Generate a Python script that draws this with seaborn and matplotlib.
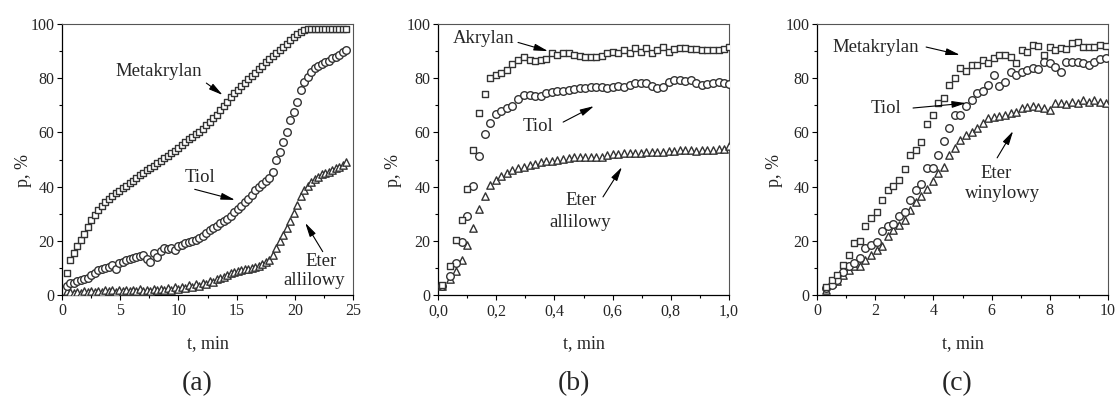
import matplotlib
matplotlib.use("Agg")
import matplotlib.pyplot as plt
import seaborn as sns
from matplotlib.ticker import MultipleLocator, FuncFormatter

# ---------------- data ----------------
# panel (a)
t_a = [0.4, 0.7, 1.0, 1.3, 1.6, 1.9, 2.2, 2.5, 2.8, 3.1,
       3.4, 3.7, 4.0, 4.3, 4.6, 4.9, 5.2, 5.5, 5.8, 6.1,
       6.4, 6.7, 7.0, 7.3, 7.6, 7.9, 8.2, 8.5, 8.8, 9.1,
       9.4, 9.7, 10.0, 10.3, 10.6, 10.9, 11.2, 11.5, 11.8, 12.1,
       12.4, 12.7, 13.0, 13.3, 13.6, 13.9, 14.2, 14.5, 14.8, 15.1,
       15.4, 15.7, 16.0, 16.3, 16.6, 16.9, 17.2, 17.5, 17.8, 18.1,
       18.4, 18.7, 19.0, 19.3, 19.6, 19.9, 20.2, 20.5, 20.8, 21.1,
       21.4, 21.7, 22.0, 22.3, 22.6, 22.9, 23.2, 23.5, 23.8, 24.1,
       24.4]
metakrylan_a = [8.3, 12.9, 15.5, 18.0, 20.3, 22.5, 25.0, 27.5, 29.5, 31.2,
                32.7, 34.2, 35.5, 36.6, 37.6, 38.5, 39.4, 40.3, 41.2, 42.1,
                43.1, 44.1, 45.2, 46.0, 46.9, 47.7, 48.6, 49.6, 50.4, 51.3,
                52.3, 53.3, 54.4, 55.4, 56.4, 57.5, 58.4, 59.4, 60.3, 61.4,
                62.6, 63.9, 65.2, 66.6, 68.2, 69.7, 71.3, 73.0, 74.4, 75.8,
                77.2, 78.4, 79.6, 80.8, 82.0, 83.4, 84.6, 85.9, 87.0, 88.2,
                89.3, 90.4, 91.6, 92.8, 94.1, 95.2, 96.2, 97.0, 97.7, 98.1,
                98.2, 98.2, 98.2, 98.2, 98.2, 98.2, 98.2, 98.2, 98.2, 98.2,
                98.2]
tiol_a = [3.5, 4.3, 4.6, 5.0, 5.4, 5.8, 6.4, 7.3, 8.3, 9.1,
          9.6, 9.8, 10.3, 11.0, 9.5, 11.7, 12.3, 12.9, 13.3, 13.8,
          14.1, 14.4, 14.7, 13.2, 12.3, 15.5, 14.2, 16.4, 17.4, 16.8,
          17.2, 16.5, 18.0, 18.4, 19.2, 19.6, 19.9, 20.2, 21.0, 21.8,
          22.8, 24.1, 24.8, 25.6, 26.4, 27.3, 28.2, 29.3, 30.5, 31.7,
          33.0, 34.2, 35.4, 36.8, 38.6, 40.0, 41.0, 42.0, 43.3, 45.5,
          49.8, 52.9, 56.6, 60.2, 64.6, 67.6, 71.3, 75.8, 78.6, 80.6,
          82.2, 83.6, 84.4, 85.1, 85.8, 86.5, 87.3, 87.8, 88.6, 89.6,
          90.4]
eter_a = [1.5, 1.0, 0.8, 1.2, 0.9, 1.4, 1.0, 1.6, 1.1, 1.5,
          1.2, 1.8, 1.3, 1.7, 1.2, 1.9, 1.4, 1.8, 1.3, 2.0,
          1.5, 2.1, 1.6, 2.0, 1.5, 2.2, 1.7, 2.3, 1.8, 2.6,
          2.0, 2.8, 2.2, 3.1, 2.4, 3.6, 2.8, 4.2, 3.3, 4.6,
          4.0, 5.3, 4.9, 6.0, 6.2, 6.8, 7.3, 8.0, 8.4, 8.9,
          9.3, 9.5, 9.7, 10.0, 10.4, 10.8, 11.4, 12.1, 13.0, 14.8,
          17.4, 19.8, 22.3, 24.8, 27.2, 30.2, 33.3, 36.4, 38.6, 40.2,
          41.6, 42.8, 43.7, 44.5, 45.0, 45.5, 46.2, 46.8, 47.4, 48.1,
          49.0]

# panel (b)
t_b = [0.015, 0.04, 0.063, 0.084, 0.1, 0.12, 0.141, 0.16, 0.18, 0.198,
       0.218, 0.237, 0.255, 0.275, 0.294, 0.315, 0.334, 0.353, 0.372, 0.392,
       0.41, 0.43, 0.449, 0.467, 0.487, 0.506, 0.525, 0.544, 0.564, 0.582,
       0.6, 0.62, 0.64, 0.659, 0.678, 0.696, 0.716, 0.735, 0.754, 0.773,
       0.793, 0.811, 0.83, 0.85, 0.868, 0.888, 0.907, 0.926, 0.945, 0.964,
       0.983, 1.0]
akrylan_b = [3.8, 10.6, 20.4, 27.5, 39.2, 53.6, 67.3, 74.2, 80.2, 81.0,
             81.8, 83.0, 85.3, 86.7, 87.7, 86.7, 86.5, 86.7, 87.0, 89.2,
             88.6, 89.2, 89.4, 88.6, 88.2, 88.0, 88.0, 88.0, 88.2, 89.2,
             89.8, 89.2, 90.4, 89.2, 91.0, 89.8, 91.0, 89.4, 90.4, 91.6,
             89.8, 90.7, 91.0, 91.0, 90.7, 90.7, 90.4, 90.4, 90.4, 90.4,
             90.7, 91.6]
tiol_b = [3.4, 6.9, 11.8, 19.4, 29.0, 40.3, 51.4, 59.3, 63.6, 66.7,
          68.0, 69.0, 69.8, 72.2, 73.8, 73.8, 73.6, 73.6, 74.4, 75.0,
          75.4, 75.4, 75.7, 75.9, 76.3, 76.3, 76.7, 76.7, 76.7, 76.5,
          76.7, 77.1, 76.9, 77.5, 78.1, 78.1, 78.1, 77.1, 76.3, 76.7,
          78.7, 79.4, 79.4, 79.1, 79.4, 78.1, 77.5, 77.9, 78.4, 78.7,
          78.4, 77.9]
eter_b = [3.2, 5.9, 8.7, 13.0, 18.5, 24.7, 31.7, 36.6, 40.7, 42.5,
          44.0, 45.0, 46.0, 46.8, 47.4, 48.0, 48.4, 48.9, 49.3, 49.6,
          49.9, 50.1, 50.4, 50.9, 51.1, 51.1, 51.1, 50.9, 51.1, 51.7,
          52.0, 52.1, 52.3, 52.3, 52.3, 52.3, 52.6, 52.6, 52.6, 52.8,
          53.0, 53.2, 53.6, 53.6, 53.6, 53.3, 53.6, 53.6, 53.6, 53.8,
          53.8, 54.8]

# panel (c)
t_c = [0.32, 0.51, 0.70, 0.89, 1.09, 1.28, 1.47, 1.66, 1.85, 2.05,
       2.24, 2.43, 2.62, 2.81, 3.01, 3.20, 3.39, 3.58, 3.77, 3.97,
       4.16, 4.35, 4.54, 4.73, 4.93, 5.12, 5.31, 5.50, 5.69, 5.89,
       6.08, 6.27, 6.46, 6.65, 6.85, 7.04, 7.23, 7.42, 7.61, 7.81,
       8.00, 8.19, 8.38, 8.57, 8.77, 8.96, 9.15, 9.34, 9.53, 9.73,
       9.92]
metakrylan_c = [3.0, 5.7, 7.5, 11.2, 14.9, 19.2, 19.8, 25.3, 28.4, 30.8,
                35.1, 38.8, 40.3, 42.5, 46.5, 51.7, 53.6, 56.6, 63.1, 66.5,
                70.8, 72.6, 77.5, 80.0, 83.7, 82.8, 84.9, 84.9, 86.7, 85.7,
                87.3, 88.6, 88.6, 88.0, 85.5, 90.4, 89.8, 92.3, 91.9, 88.6,
                91.6, 90.4, 91.0, 90.7, 92.9, 93.5, 91.6, 91.6, 91.6, 92.3,
                91.9]
tiol_c = [2.5, 3.8, 5.7, 8.4, 10.6, 11.8, 13.6, 17.3, 18.6, 19.4,
          23.5, 25.3, 26.3, 29.2, 30.8, 35.1, 38.6, 40.9, 46.8, 46.8,
          51.5, 57.0, 61.8, 66.5, 66.5, 69.8, 72.0, 74.7, 75.1, 77.5,
          81.2, 77.1, 78.7, 82.4, 81.2, 82.4, 83.0, 83.7, 83.3, 86.1,
          85.5, 84.3, 82.4, 86.1, 86.1, 86.1, 85.7, 84.9, 86.1, 87.0,
          87.3]
eter_c = [2.0, 4.4, 5.0, 7.5, 9.3, 10.6, 10.8, 13.0, 14.9, 16.7,
          18.2, 21.6, 24.1, 25.9, 27.8, 31.4, 34.5, 36.4, 39.1, 41.9,
          45.0, 47.4, 51.7, 54.2, 57.2, 59.1, 60.3, 61.5, 63.4, 65.2,
          65.8, 66.1, 66.5, 67.1, 67.7, 68.9, 69.5, 69.8, 69.3, 68.9,
          68.3, 70.8, 70.8, 70.5, 71.4, 70.8, 72.0, 71.4, 72.0, 71.4,
          70.8]

xticks_a = [0, 5, 10, 15, 20, 25]
xticks_b = [0.0, 0.2, 0.4, 0.6, 0.8, 1.0]
xticks_c = [0, 2, 4, 6, 8, 10]
yticks = [0, 20, 40, 60, 80, 100]

# ---------------- style ----------------
sns.set_theme(style="ticks")
plt.rcParams["font.family"] = ["Liberation Serif", "DejaVu Serif"]

EDGE = "#333333"
fig = plt.figure(figsize=(11.19, 3.98), dpi=100)

W, H = 1119.0, 398.0
def add_axes(px_left):
    return fig.add_axes([px_left / W, (H - 295) / H, 291 / W, 271 / H])

ax_a = add_axes(62)
ax_b = add_axes(438)
ax_c = add_axes(817)


def scatter(ax, x, y, marker, s):
    sns.scatterplot(x=x, y=y, ax=ax, marker=marker, s=s,
                    facecolor="white", edgecolor=EDGE, linewidth=1.0,
                    legend=False, zorder=3)


def style(ax, xlim, xticks, xminor, fmt, ylab_x):
    ax.set_xlim(*xlim)
    ax.set_ylim(0, 100)
    ax.set_xticks(xticks)
    ax.set_yticks(yticks)
    ax.xaxis.set_minor_locator(MultipleLocator(xminor))
    ax.yaxis.set_minor_locator(MultipleLocator(10))
    ax.xaxis.set_major_formatter(FuncFormatter(fmt))
    ax.tick_params(which="both", direction="out", top=False, right=False,
                   labelsize=11.5, width=0.8, color="black")
    ax.tick_params(which="major", length=3.5)
    ax.tick_params(which="minor", length=2.2)
    ax.tick_params(axis="x", pad=2.5)
    ax.tick_params(axis="y", pad=2)
    for side in ["left", "bottom"]:
        ax.spines[side].set_color("black")
        ax.spines[side].set_linewidth(0.9)
    for side in ["top", "right"]:
        ax.spines[side].set_color("#555555")
        ax.spines[side].set_linewidth(0.8)
    ax.set_xlabel("t, min", fontsize=13)
    ax.set_ylabel("p, %", fontsize=13)
    ax.xaxis.set_label_coords(0.5, -0.148)
    ax.yaxis.set_label_coords(ylab_x, 0.46)
    ax.set_facecolor("white")


def label(ax, x, y, txt):
    ax.text(x, y, txt, ha="center", va="center", fontsize=13.5, zorder=5)


def arrow(ax, tail, tip):
    ax.annotate("", xy=tip, xytext=tail,
                arrowprops=dict(arrowstyle="-|>,head_length=0.7,head_width=0.17",
                                color="black", lw=0.8, shrinkA=0, shrinkB=0),
                zorder=5)


# panel (a)
scatter(ax_a, t_a, eter_a, "^", 28)
scatter(ax_a, t_a, tiol_a, "o", 30)
scatter(ax_a, t_a, metakrylan_a, "s", 22)
style(ax_a, (0, 25), xticks_a, 2.5, lambda v, p: f"{v:.0f}", -0.103)
label(ax_a, 8.3, 82.3, "Metakrylan")
arrow(ax_a, (12.4, 78.2), (13.8, 73.8))
label(ax_a, 11.86, 43.2, "Tiol")
arrow(ax_a, (11.4, 39.0), (14.86, 35.1))
label(ax_a, 22.3, 12.4, "Eter")
label(ax_a, 21.65, 5.2, "allilowy")
arrow(ax_a, (22.4, 16.0), (20.9, 26.6))

# panel (b)
scatter(ax_b, t_b, eter_b, "^", 28)
scatter(ax_b, t_b, tiol_b, "o", 30)
scatter(ax_b, t_b, akrylan_b, "s", 22)
style(ax_b, (0, 1.0), xticks_b, 0.1, lambda v, p: f"{v:.1f}".replace(".", ","), -0.124)
label(ax_b, 0.158, 94.5, "Akrylan")
arrow(ax_b, (0.275, 93.2), (0.378, 90.0))
label(ax_b, 0.344, 62.0, "Tiol")
arrow(ax_b, (0.43, 63.8), (0.536, 69.7))
label(ax_b, 0.491, 34.7, "Eter")
label(ax_b, 0.488, 26.9, "allilowy")
arrow(ax_b, (0.567, 36.2), (0.632, 47.2))

# panel (c)
scatter(ax_c, t_c, eter_c, "^", 28)
scatter(ax_c, t_c, tiol_c, "o", 30)
scatter(ax_c, t_c, metakrylan_c, "s", 24)
style(ax_c, (0, 10), xticks_c, 1, lambda v, p: f"{v:.0f}", -0.117)
label(ax_c, 2.03, 91.5, "Metakrylan")
arrow(ax_c, (3.75, 91.5), (4.91, 88.6))
label(ax_c, 2.37, 69.0, "Tiol")
arrow(ax_c, (3.3, 69.0), (5.12, 70.8))
label(ax_c, 6.15, 45.0, "Eter")
label(ax_c, 6.36, 37.6, "winylowy")
arrow(ax_c, (6.19, 50.6), (6.74, 60.5))

# captions
for xc, txt in [(197, "(a)"), (574, "(b)"), (957, "(c)")]:
    fig.text(xc / W, 1 - 384 / H, txt, ha="center", va="center", fontsize=20)

fig.savefig("out.png", dpi=100)
